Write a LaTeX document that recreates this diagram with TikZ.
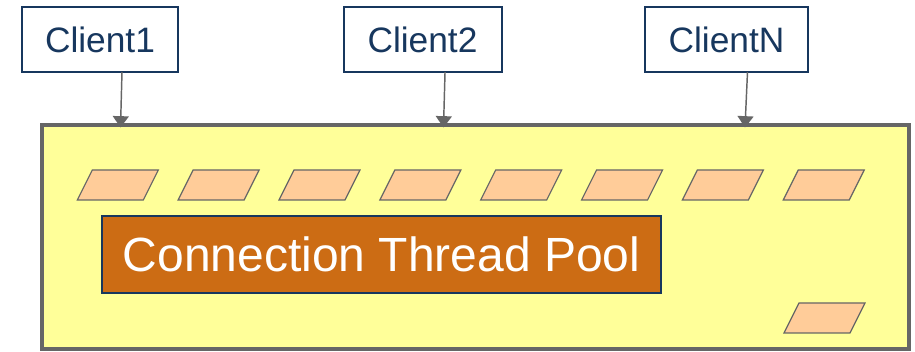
\documentclass[tikz,border=0pt]{standalone}
\usepackage{fontspec}
\setmainfont{Liberation Sans}
\usetikzlibrary{arrows.meta}
\definecolor{navy}{HTML}{17375E}
\definecolor{framegray}{HTML}{666666}
\definecolor{poolyellow}{HTML}{FFFF99}
\definecolor{slotpeach}{HTML}{FFCC99}
\definecolor{poolorange}{HTML}{CC6C14}
\tikzset{
  clientbox/.style={draw=navy, line width=1.5pt, fill=white, text=navy,
    font=\fontsize{26.5}{30}\selectfont, inner sep=0pt, outer sep=0pt,
    minimum height=48.75pt},
  serverbox/.style={draw=framegray, line width=3.2pt, fill=poolyellow,
    inner sep=0pt, outer sep=0pt, minimum width=650.25pt, minimum height=168pt},
  poolbox/.style={draw=navy, line width=1.5pt, fill=poolorange, text=white,
    font=\fontsize{36}{40}\selectfont, inner sep=0pt, outer sep=0pt,
    minimum width=419.25pt, minimum height=57.75pt},
  slot/.style={draw=framegray, line width=0.9pt, fill=slotpeach, line join=miter},
  conn/.style={draw=framegray, line width=1.1pt,
    -{Triangle[width=12pt,length=8.5pt]}},
}
\begin{document}
\begin{tikzpicture}[x=0.75pt, y=-0.75pt]
\useasboundingbox (0,0) rectangle (915,352);
% server frame
\node[serverbox] (server) at (475.5,237) {};
% clients
\node[clientbox, minimum width=117pt] (c1) at (100,39.5) {Client1};
\node[clientbox, minimum width=118.5pt] (c2) at (422.5,39.5) {Client2};
\node[clientbox, minimum width=122.25pt] (cn) at (726.5,39.5) {ClientN};
% arrow targets on the frame top
\coordinate (t1) at (120.5,127.5);
\coordinate (t2) at (443.5,127.5);
\coordinate (tn) at (745,127.5);
\draw[conn] ([xshift=16.5pt]c1.south) -- (t1);
\draw[conn] ([xshift=16.9pt]c2.south) -- (t2);
\draw[conn] ([xshift=15.75pt]cn.south) -- (tn);
% slots row
\foreach \i in {0,...,7} {
  \pgfmathsetmacro{\xx}{77.3+100.85*\i}
  \draw[slot] (\xx,200) -- ++(66,0) -- ++(15,-30) -- ++(-66,0) -- cycle;
}
% lone slot
\draw[slot] (784,333) -- ++(66,0) -- ++(15,-30) -- ++(-66,0) -- cycle;
% pool label
\node[poolbox] (pool) at (381.5,254.5) {Connection Thread Pool};
\end{tikzpicture}
\end{document}
